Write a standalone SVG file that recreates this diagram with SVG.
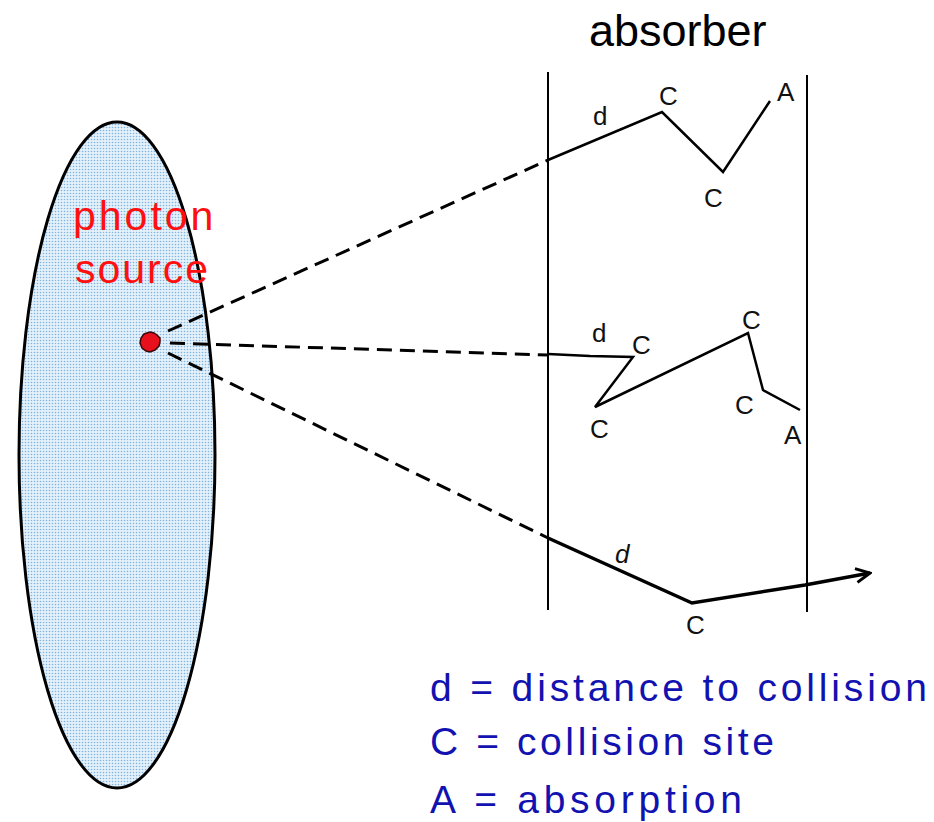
<svg xmlns="http://www.w3.org/2000/svg" width="934" height="822" viewBox="0 0 934 822">
  <defs>
    <pattern id="dots" width="3" height="3" patternUnits="userSpaceOnUse">
      <rect width="3" height="3" fill="#e4f1fa"/>
      <circle cx="1.5" cy="1.5" r="0.8" fill="#7fb4e0"/>
    </pattern>
    <marker id="arrow" viewBox="0 0 20 20" refX="18" refY="10" markerWidth="20" markerHeight="20" markerUnits="userSpaceOnUse" orient="auto">
      <polyline points="4,3 18,10 4,17" fill="none" stroke="#000" stroke-width="3"/>
    </marker>
    <style>
      .lbl { font-family: "Liberation Sans", Arial, sans-serif; font-size: 26px; fill: #111; }
      .legend { font-family: "Liberation Sans", Arial, sans-serif; font-size: 39px; fill: #1212b0; }
      .dash { fill: none; stroke: #000; stroke-width: 3; stroke-dasharray: 15 8; }
      .path { fill: none; stroke: #000; stroke-width: 2.5; stroke-linejoin: miter; }
      .wall { stroke: #000; stroke-width: 2; }
    </style>
  </defs>
  <rect width="934" height="822" fill="#fff"/>

  <g id="source">
    <ellipse cx="117" cy="455" rx="98" ry="333" fill="url(#dots)" stroke="#000" stroke-width="3"/>
    <text x="73" y="230" font-family="Liberation Sans, Arial, sans-serif" font-size="41" fill="#ff1010" letter-spacing="3">photon</text>
    <text x="75" y="283" font-family="Liberation Sans, Arial, sans-serif" font-size="41" fill="#ff1010" letter-spacing="2">source</text>
    <polygon points="150,332 154,333 157,335 160,338 160,342 159,346 155,350 150,352 146,351 142,348 140,343 141,338 144,334" fill="#e8101c" stroke="#3a0a0a" stroke-width="1.5"/>
  </g>

  <g id="absorber">
    <line class="wall" x1="548" y1="72" x2="548" y2="610"/>
    <line class="wall" x1="807" y1="75" x2="807" y2="612"/>
    <text x="589" y="46" font-family="Liberation Sans, Arial, sans-serif" font-size="45" fill="#000">absorber</text>
  </g>

  <g id="connectors">
    <line class="dash" x1="168" y1="331" x2="548" y2="160"/>
    <line class="dash" x1="170" y1="343" x2="548" y2="355"/>
    <line class="dash" x1="168" y1="353" x2="548" y2="538"/>
    <polyline class="path" points="548,160 662,112 723,172 770,101"/>
    <polyline class="path" points="548,354 590,356 633,357 595,407 748,333 763,390 800,410"/>
    <polyline class="path" style="stroke-width:3.5" points="548,538 692,603 805,585 870,573" marker-end="url(#arrow)"/>
  </g>

  <g id="labels">
    <text class="lbl" x="593" y="125">d</text>
    <text class="lbl" x="659" y="105">C</text>
    <text class="lbl" x="704" y="207">C</text>
    <text class="lbl" x="777" y="101">A</text>

    <text class="lbl" x="592" y="342">d</text>
    <text class="lbl" x="632" y="354">C</text>
    <text class="lbl" x="742" y="329">C</text>
    <text class="lbl" x="590" y="438">C</text>
    <text class="lbl" x="735" y="414">C</text>
    <text class="lbl" x="784" y="444">A</text>

    <text class="lbl" x="615" y="563" font-style="italic">d</text>
    <text class="lbl" x="686" y="634">C</text>
  </g>

  <g id="legend">
    <text class="legend" x="430" y="701" textLength="497" lengthAdjust="spacing">d = distance to collision</text>
    <text class="legend" x="430" y="755" textLength="344" lengthAdjust="spacing">C = collision site</text>
    <text class="legend" x="430" y="813" textLength="312" lengthAdjust="spacing">A = absorption</text>
  </g>
</svg>
